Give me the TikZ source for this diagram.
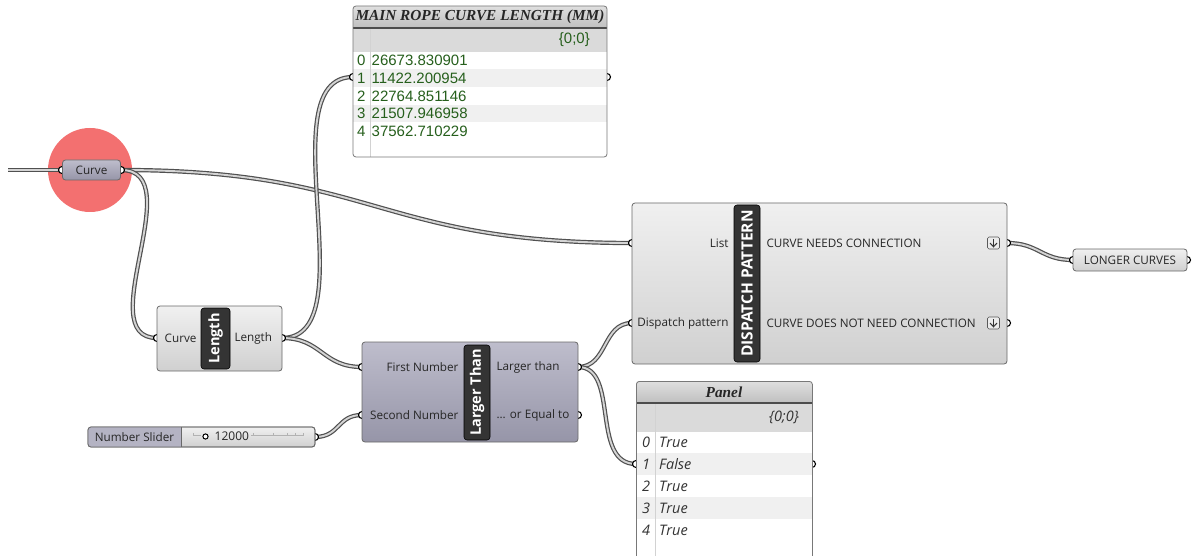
\documentclass[tikz,border=0pt]{standalone}
\usepackage{fontspec}
\setmainfont{Open Sans}
\newfontfamily\numfont{Liberation Sans}
\newfontfamily\titlefont{Liberation Serif}
\usetikzlibrary{calc}

\definecolor{bodyTop}{RGB}{240,240,240}
\definecolor{bodyBot}{RGB}{208,208,208}
\definecolor{edgeGray}{RGB}{105,105,105}
\definecolor{cmpTop}{RGB}{190,189,204}
\definecolor{cmpBot}{RGB}{150,149,168}
\definecolor{tagFill}{RGB}{52,52,52}
\definecolor{wireEdge}{RGB}{80,80,80}
\definecolor{wireCore}{RGB}{212,212,212}
\definecolor{ghGreen}{RGB}{38,95,28}
\definecolor{hilite}{RGB}{243,112,112}
\definecolor{stripe}{RGB}{240,240,240}
\definecolor{hdr}{RGB}{218,218,218}
\definecolor{panelEdge}{RGB}{120,120,120}

\tikzset{
  x=1pt, y=-1pt,
  body/.style={draw=edgeGray, rounded corners=3pt, top color=bodyTop, bottom color=bodyBot,
    line width=0.8pt, inner sep=0},
  pbody/.style={body, top color=cmpTop, bottom color=cmpBot},
  tag/.style={draw=black, fill=tagFill, rounded corners=3pt, inner sep=0, line width=0.6pt},
  tagtext/.style={text=white, font=\fontsize{14.5}{16}\selectfont\bfseries, rotate=90, inner sep=0},
  grip/.style={circle, draw=black, fill=white, line width=1.1pt, minimum size=7pt, inner sep=0},
  wire/.style={draw=wireEdge, double=wireCore, line width=1.2pt, double distance=1.9pt},
  lbl/.style={font=\fontsize{11.7}{13}\selectfont, text=black!85, inner sep=0},
  frame/.style={draw=panelEdge, rounded corners=3pt, line width=0.8pt, inner sep=0},
  gnum/.style={font=\numfont\fontsize{15}{17}\selectfont, text=ghGreen, inner sep=0, anchor=west},
  pnum/.style={font=\fontsize{14.5}{16}\selectfont\itshape, text=black!80, inner sep=0, anchor=west},
  ptitle/.style={font=\titlefont\bfseries\itshape\fontsize{15.3}{17}\selectfont, text=black!85, inner sep=0},
}

\begin{document}
\begin{tikzpicture}
\clip (0,0) rectangle (1194,556);
\fill[white] (0,0) rectangle (1194,556);

% selection highlight behind the Curve parameter
\fill[hilite] (90,170) circle[radius=42];

% port positions
\coordinate (src) at (8,170);
\coordinate (curve-in) at (62,170);
\coordinate (curve-out) at (121,170);
\coordinate (len-in) at (157,338);
\coordinate (len-out) at (282,338);
\coordinate (gt-a) at (362,367);
\coordinate (gt-b) at (362,415);
\coordinate (gt-r) at (578,367);
\coordinate (gt-e) at (578,415);
\coordinate (sl-out) at (315,437);
\coordinate (dp-list) at (632,243);
\coordinate (dp-pat) at (632,323);
\coordinate (dp-o1) at (1007,243);
\coordinate (dp-o2) at (1007,323);
\coordinate (lc-in) at (1073,260);
\coordinate (lc-out) at (1187,260);
\coordinate (tp-in) at (353,77);
\coordinate (tp-out) at (607,77);
\coordinate (pn-in) at (636,464);
\coordinate (pn-out) at (812,464);

% wires
\draw[wire] (src) -- (curve-in);
\draw[wire] (curve-out) .. controls +(255,0) and +(-255,0) .. (dp-list);
\draw[wire] (curve-out) .. controls +(70,0) and +(-67,0) .. (len-in);
\draw[wire] (len-out) .. controls +(87,0) and +(-87,0) .. (tp-in);
\draw[wire] (len-out) .. controls +(40,0) and +(-40,0) .. (gt-a);
\draw[wire] (sl-out) .. controls +(25,0) and +(-25,0) .. (gt-b);
\draw[wire] (gt-r) .. controls +(30,0) and +(-30,0) .. (dp-pat);
\draw[wire] (gt-r) .. controls +(42,0) and +(-46,0) .. (pn-in);
\draw[wire] (dp-o1) .. controls +(32,0) and +(-32,0) .. (lc-in);

% grips
\foreach \p in {curve-in,curve-out,len-in,len-out,gt-a,gt-b,gt-r,gt-e,sl-out,
  dp-list,dp-pat,dp-o1,dp-o2,lc-in,lc-out,tp-in,tp-out,pn-in,pn-out}
  \node[grip] at (\p) {};

% Curve parameter
\node[pbody, minimum width=58pt, minimum height=20pt] (curve) at (91.5,170) {};
\node[lbl] at (curve) {Curve};

% Length component
\node[body, minimum width=125pt, minimum height=65pt] (len) at (219.5,338.5) {};
\node[tag, minimum width=29pt, minimum height=61pt] (lentag) at (215.5,338.5) {};
\node[tagtext] at (lentag) {Length};
\node[lbl, anchor=east] at ($(lentag.west |- len-in)+(-4,0)$) {Curve};
\node[lbl, anchor=west] at ($(lentag.east |- len-out)+(4,0)$) {Length};

% Larger Than component
\node[pbody, minimum width=216pt, minimum height=100pt] (gt) at (470,392) {};
\node[tag, minimum width=26pt, minimum height=95pt] (gttag) at (477,392.5) {};
\node[tagtext] at (gttag) {Larger Than};
\node[lbl, anchor=east] at ($(gttag.west |- gt-a)+(-5,0)$) {First Number};
\node[lbl, anchor=east] at ($(gttag.west |- gt-b)+(-5,0)$) {Second Number};
\node[lbl, anchor=west] at ($(gttag.east |- gt-r)+(6,0)$) {Larger than};
\node[lbl, anchor=west] at ($(gttag.east |- gt-e)+(6,0)$) {... or Equal to};

% Number slider
\node[body, minimum width=227pt, minimum height=20pt] (sl) at (201.5,437) {};
\begin{scope}
  \clip[rounded corners=3pt] (88,427) rectangle (315,447);
  \fill[cmpTop!75!cmpBot] (88,427) rectangle (181,447);
\end{scope}
\draw[edgeGray, line width=0.8pt] (181,427) -- (181,447);
\draw[edgeGray, line width=0.8pt, rounded corners=3pt] (88,427) rectangle (315,447);
\node[lbl] at (134.5,437) {Number Slider};
\draw[gray!60, line width=0.5pt] (193,435.5) -- (201,435.5);
\draw[gray!60, line width=0.5pt] (251,435.5) -- (303,435.5);
\foreach \t in {193,253,273,287,295,303}
  \draw[gray!60, line width=0.5pt] (\t,433) -- (\t,435.5);
\draw[black, line width=1pt, fill=white] (205.5,436.5) circle[radius=2.6];
\node[lbl, anchor=west, font=\fontsize{12}{14}\selectfont] at (214.5,436.5) {12000};

% Dispatch component
\node[body, minimum width=375pt, minimum height=161pt] (dp) at (819.5,283.5) {};
\node[tag, minimum width=26pt, minimum height=157pt] (dptag) at (747,283.5) {};
\node[tagtext, font=\fontsize{15.5}{17}\selectfont\bfseries] at (dptag) {DISPATCH PATTERN};
\node[lbl, anchor=east] at ($(dptag.west |- dp-list)+(-5,0)$) {List};
\node[lbl, anchor=east] at ($(dptag.west |- dp-pat)+(-5,0)$) {Dispatch pattern};
\node[lbl, anchor=west] at ($(dptag.east |- dp-o1)+(6,0)$) {CURVE NEEDS CONNECTION};
\node[lbl, anchor=west] at ($(dptag.east |- dp-o2)+(6,0)$) {CURVE DOES NOT NEED CONNECTION};
\foreach \yy in {243,323}{
  \draw[gray!70!black, fill=gray!15, rounded corners=1.5pt, line width=0.6pt]
    (987.5,\yy-6) rectangle (999.5,\yy+6);
  \draw[gray!40!black, line width=1pt] (993.5,\yy-4) -- (993.5,\yy+3.5);
  \draw[gray!40!black, line width=1pt] (990,\yy) -- (993.5,\yy+3.8) -- (997,\yy);
}

% LONGER CURVES relay
\node[body, minimum width=114pt, minimum height=22pt] (lc) at (1130,260) {};
\node[lbl] at (lc) {LONGER CURVES};

% Panel: main rope curve length
\begin{scope}
  \clip[rounded corners=3pt] (353,6) rectangle (607,157);
  \fill[white] (353,6) rectangle (607,157);
  \shade[top color=gray!25, bottom color=gray!50] (353,6) rectangle (607,28);
  \fill[hdr] (353,28) rectangle (607,52);
  \fill[stripe] (353,69.4) rectangle (607,87);
  \fill[stripe] (353,104.8) rectangle (607,122.4);
  \draw[gray!35, line width=1pt] (370,28) -- (370,157);
  \draw[gray!60!black, line width=1.2pt] (353,28) -- (607,28);
\end{scope}
\node[frame, minimum width=254pt, minimum height=151pt] (tp) at (480,81.5) {};
\node[ptitle] at (480,17) {MAIN ROPE CURVE LENGTH (MM)};
\node[gnum, anchor=east] at (590,40) {\{0;0\}};
\foreach \i/\v [count=\k from 0] in {0/26673.830901,1/11422.200954,2/22764.851146,3/21507.946958,4/37562.710229}{
  \node[gnum] at (357,60.5+17.7*\k) {\i};
  \node[gnum] at (371.5,60.5+17.7*\k) {\v};
}

% Panel: comparison results
\begin{scope}
  \clip[rounded corners=3pt] (636,381) rectangle (812,580);
  \fill[white] (636,381) rectangle (812,580);
  \shade[top color=gray!25, bottom color=gray!50] (636,381) rectangle (812,403);
  \fill[hdr] (636,403) rectangle (812,432);
  \fill[stripe] (636,453) rectangle (812,475);
  \fill[stripe] (636,497) rectangle (812,519);
  \draw[gray!35, line width=1pt] (655,403) -- (655,580);
  \draw[gray!60!black, line width=1.2pt] (636,403) -- (812,403);
\end{scope}
\node[frame, minimum width=176pt, minimum height=199pt, anchor=north west] (pn) at (636,381) {};
\node[ptitle] at (724,392) {Panel};
\node[pnum, anchor=east] at (799,417) {\{0;0\}};
\foreach \i/\v [count=\k from 0] in {0/True,1/False,2/True,3/True,4/True}{
  \node[pnum] at (642,442+22*\k) {\i};
  \node[pnum] at (659,442+22*\k) {\v};
}
\end{tikzpicture}
\end{document}
